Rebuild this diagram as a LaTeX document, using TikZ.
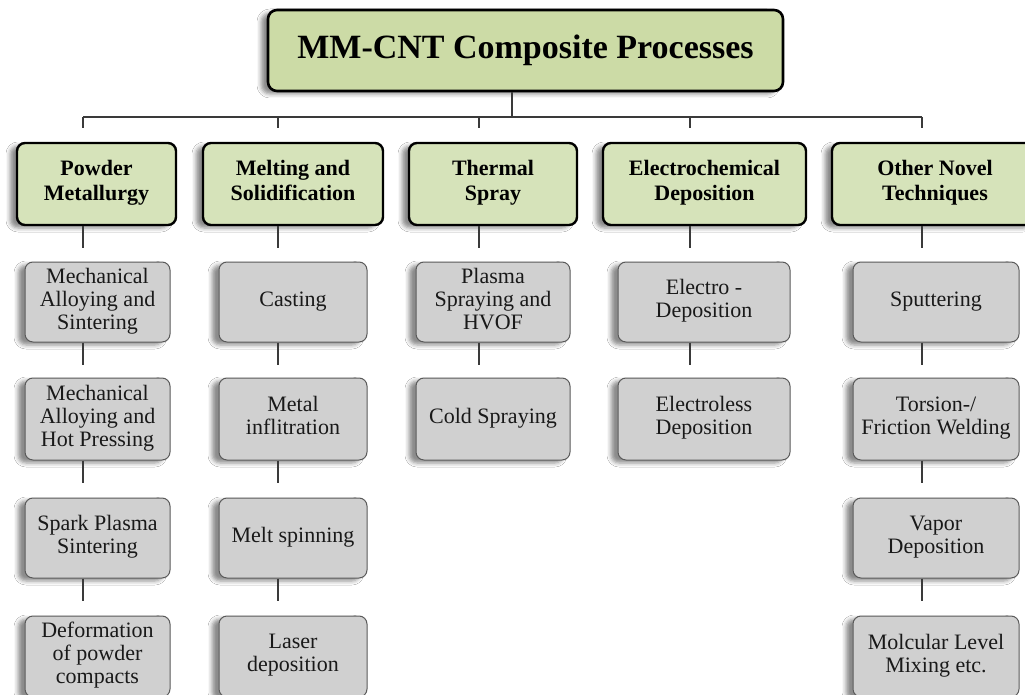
\documentclass[tikz,border=0pt]{standalone}
\usepackage{fontspec}
\setmainfont{Liberation Serif}
\usetikzlibrary{shadows.blur}
\definecolor{rootgreen}{HTML}{CCDBA6}
\definecolor{catgreen}{HTML}{D6E3BA}
\definecolor{itemgray}{HTML}{D0D0D0}
\definecolor{itemedge}{HTML}{5A5A5A}
\definecolor{linkgray}{HTML}{3A3A3A}
\tikzset{
  boxshadow/.style={blur shadow={shadow xshift=-7pt, shadow yshift=-3pt, shadow blur radius=4pt, shadow opacity=45}},
  evenlines/.style={execute at begin node=\strut, execute at end node=\strut},
  rootbox/.style={draw=black, line width=2.6pt, fill=rootgreen, rounded corners=9pt, boxshadow,
    minimum width=515pt, minimum height=81pt, inner sep=0pt, font=\fontsize{34}{38}\selectfont\bfseries},
  catbox/.style={draw=black, line width=2.4pt, fill=catgreen, rounded corners=8pt, boxshadow, evenlines,
    minimum height=82pt, inner sep=0pt, align=center, font=\fontsize{22}{25}\selectfont\bfseries},
  itembox/.style={draw=itemedge, line width=1pt, fill=itemgray, rounded corners=8pt, boxshadow, evenlines,
    inner sep=0pt, align=center, text=black!90, font=\fontsize{22}{23}\selectfont},
  link/.style={draw=linkgray, line width=1.2pt},
}
\begin{document}
\begin{tikzpicture}[x=1pt, y=-1pt]
  \fill[white] (0,0) rectangle (1025,695);
  \clip (0,0) rectangle (1025,695);

  % root
  \node[rootbox] (root) at (525.5,50.5) {MM-CNT Composite Processes};

  % process families
  \node[catbox, minimum width=159pt] (pm) at (96.5,184) {Powder\\Metallurgy};
  \node[catbox, minimum width=180pt] (ms) at (293,184) {Melting and\\Solidification};
  \node[catbox, minimum width=168pt] (ts) at (493,184) {Thermal\\Spray};
  \node[catbox, minimum width=203pt] (ed) at (704.5,184) {Electrochemical\\Deposition};
  \node[catbox, minimum width=206pt] (ot) at (935,184) {Other Novel\\Techniques};

  % powder metallurgy
  \node[itembox, minimum width=145pt, minimum height=80pt] (pm1) at (97.5,302) {Mechanical\\Alloying and\\Sintering};
  \node[itembox, minimum width=145pt, minimum height=82pt] (pm2) at (97.5,419) {Mechanical\\Alloying and\\Hot Pressing};
  \node[itembox, minimum width=145pt, minimum height=80pt] (pm3) at (97.5,538) {Spark Plasma\\Sintering};
  \node[itembox, minimum width=145pt, minimum height=81pt] (pm4) at (97.5,656.5) {Deformation\\of powder\\compacts};

  % melting and solidification
  \node[itembox, minimum width=148pt, minimum height=80pt] (ms1) at (293,302) {Casting};
  \node[itembox, minimum width=148pt, minimum height=82pt] (ms2) at (293,419) {Metal\\inflitration};
  \node[itembox, minimum width=148pt, minimum height=80pt] (ms3) at (293,538) {Melt spinning};
  \node[itembox, minimum width=148pt, minimum height=81pt] (ms4) at (293,656.5) {Laser\\deposition};

  % thermal spray
  \node[itembox, minimum width=154pt, minimum height=80pt] (ts1) at (493,302) {Plasma\\Spraying and\\HVOF};
  \node[itembox, minimum width=154pt, minimum height=82pt] (ts2) at (493,419) {Cold Spraying};

  % electrochemical deposition
  \node[itembox, minimum width=172pt, minimum height=80pt] (ed1) at (704,302) {Electro -\\Deposition};
  \node[itembox, minimum width=172pt, minimum height=82pt] (ed2) at (704,419) {Electroless\\Deposition};

  % other novel techniques
  \node[itembox, minimum width=166pt, minimum height=80pt] (ot1) at (936,302) {Sputtering};
  \node[itembox, minimum width=166pt, minimum height=82pt] (ot2) at (936,419) {Torsion-/\\Friction Welding};
  \node[itembox, minimum width=166pt, minimum height=80pt] (ot3) at (936,538) {Vapor\\Deposition};
  \node[itembox, minimum width=166pt, minimum height=81pt] (ot4) at (936,656.5) {Molcular Level\\Mixing etc.};

  % connector columns
  \coordinate (bar) at (512,117);
  \coordinate (barL) at (83,117);
  \coordinate (barR) at (922,117);
  \coordinate (xpm) at (83,0);
  \coordinate (xms) at (278,0);
  \coordinate (xts) at (479,0);
  \coordinate (xed) at (690,0);
  \coordinate (xot) at (922,0);

  \draw[link] (root.south -| bar) -- (bar);
  \draw[link] (barL) -- (barR);
  \foreach \c in {pm,ms,ts,ed,ot}
    \draw[link] (x\c |- bar) -- ++(0,11);

  % stubs below each box of a column
  \foreach \b/\c in {pm/pm,ms/ms,ts/ts,ed/ed,ot/ot,
                     pm1/pm,pm2/pm,pm3/pm,ms1/ms,ms2/ms,ms3/ms,
                     ts1/ts,ed1/ed,ot1/ot,ot2/ot,ot3/ot}
    \draw[link] (\b.south -| x\c) -- ++(0,22);
\end{tikzpicture}
\end{document}
